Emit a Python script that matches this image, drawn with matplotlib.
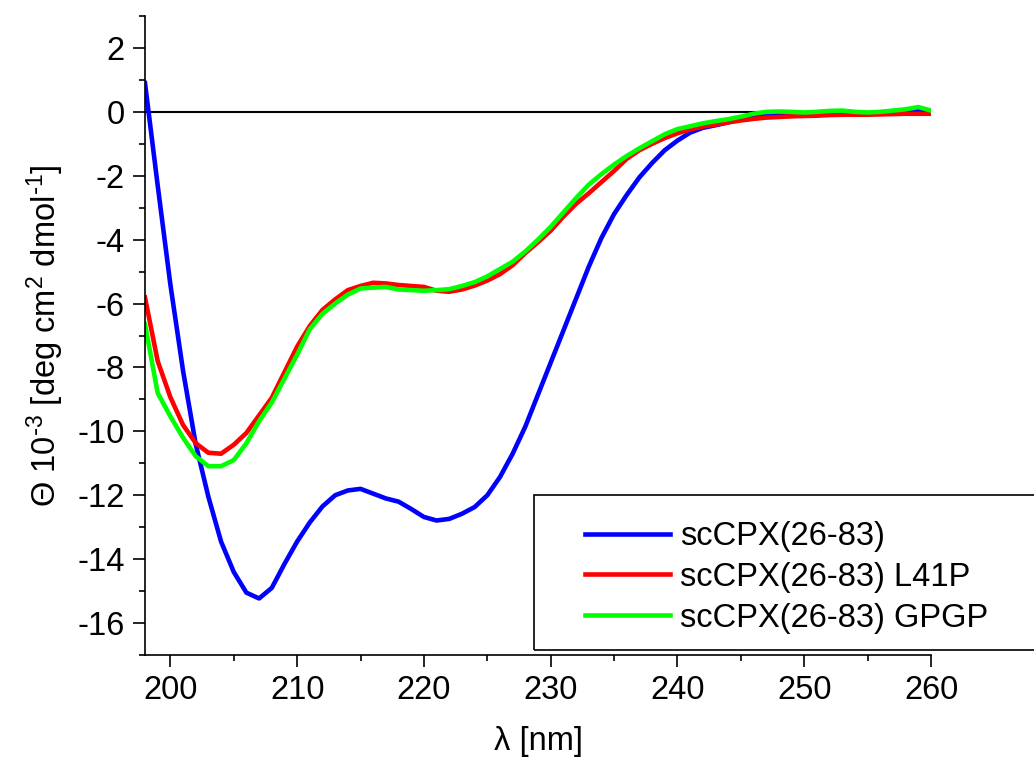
import matplotlib
matplotlib.use('Agg')
import matplotlib.pyplot as plt
from matplotlib.patches import Rectangle

plt.rcParams['font.family'] = ['Liberation Sans', 'DejaVu Sans']
plt.rcParams['axes.unicode_minus'] = False
plt.rcParams['mathtext.default'] = 'regular'

wavelength = list(range(198, 261))
wt = [0.9, -2.3, -5.4, -8.1, -10.4, -12.05, -13.45, -14.4, -15.05, -15.23,
      -14.9, -14.15, -13.45, -12.85, -12.35, -12.0, -11.85, -11.8, -11.95, -12.1,
      -12.2, -12.43, -12.68, -12.79, -12.74, -12.58, -12.37, -12.0, -11.43, -10.7,
      -9.85, -8.85, -7.85, -6.85, -5.85, -4.85, -3.95, -3.2, -2.6, -2.05,
      -1.6, -1.2, -0.9, -0.65, -0.5, -0.42, -0.33, -0.22, -0.15, -0.08,
      -0.05, -0.03, -0.05, -0.02, 0.0, 0.02, -0.02, -0.05, -0.02, 0.02,
      0.05, 0.08, 0.03]
l41p = [-5.81, -7.8, -8.93, -9.8, -10.37, -10.67, -10.7, -10.42, -10.05, -9.5,
        -8.95, -8.15, -7.35, -6.7, -6.2, -5.87, -5.58, -5.45, -5.35, -5.37,
        -5.42, -5.45, -5.48, -5.6, -5.63, -5.56, -5.44, -5.28, -5.08, -4.8,
        -4.42, -4.08, -3.72, -3.28, -2.88, -2.55, -2.2, -1.85, -1.47, -1.2,
        -1.0, -0.82, -0.67, -0.55, -0.46, -0.4, -0.33, -0.27, -0.22, -0.18,
        -0.16, -0.14, -0.13, -0.12, -0.1, -0.09, -0.09, -0.09, -0.08, -0.07,
        -0.06, -0.06, -0.06]
gpgp = [-6.65, -8.8, -9.53, -10.2, -10.78, -11.09, -11.09, -10.9, -10.37, -9.68,
        -9.1, -8.35, -7.6, -6.8, -6.32, -6.0, -5.72, -5.53, -5.5, -5.48,
        -5.56, -5.58, -5.6, -5.58, -5.55, -5.45, -5.33, -5.15, -4.92, -4.69,
        -4.37, -4.0, -3.6, -3.15, -2.7, -2.28, -1.95, -1.65, -1.38, -1.14,
        -0.92, -0.7, -0.54, -0.45, -0.36, -0.29, -0.23, -0.15, -0.06, 0.0,
        0.01, 0.0, -0.02, 0.0, 0.03, 0.04, 0.0, -0.02, 0.0, 0.04,
        0.08, 0.15, 0.04]
labels = ['scCPX(26-83)', 'scCPX(26-83) L41P', 'scCPX(26-83) GPGP']

fig = plt.figure(figsize=(10.34, 7.67), dpi=100)
ax = fig.add_axes([145 / 1034, 1 - 655 / 767, 786 / 1034, 639 / 767])

ax.plot([198, 260], [0, 0], color='black', lw=1.5)
ax.plot(wavelength, wt, color='#0000ff', lw=3.3, label=labels[0])
ax.plot(wavelength, l41p, color='#ff0000', lw=3.3, label=labels[1])
ax.plot(wavelength, gpgp, color='#00ff00', lw=3.3, label=labels[2])

ax.set_xlim(198, 260)
ax.set_ylim(-17, 3)
ax.set_xticks(range(200, 261, 10))
ax.set_xticks(range(205, 260, 10), minor=True)
ax.set_yticks(range(-16, 3, 2))
ax.set_yticks(range(-17, 4, 2), minor=True)
for s in ['top', 'right']:
    ax.spines[s].set_visible(False)
for s in ['left', 'bottom']:
    ax.spines[s].set_linewidth(1.2)
ax.tick_params(which='major', length=8.5, width=1.2, labelsize=23.5, pad=6)
ax.tick_params(which='minor', length=4.5, width=1.2)
ax.set_xlabel('λ [nm]', fontsize=23.5, labelpad=14)
ax.set_ylabel(r'Θ 10$^{\text{-}3}$ [deg cm$^{2}$ dmol$^{\text{-}1}$]',
              fontsize=23.5, labelpad=8)

fig.patches.append(Rectangle((534 / 1034, 1 - 650 / 767), 0.6, 155 / 767,
                             transform=fig.transFigure, fill=False,
                             edgecolor='black', lw=1.2))
fig.legend(loc='upper left', bbox_to_anchor=(585 / 1034, 1 - 521 / 767),
           frameon=False, fontsize=23.5, handlelength=2.6, handletextpad=0.3,
           labelspacing=0.3, borderpad=0, borderaxespad=0)

fig.savefig('out.png', dpi=100)
